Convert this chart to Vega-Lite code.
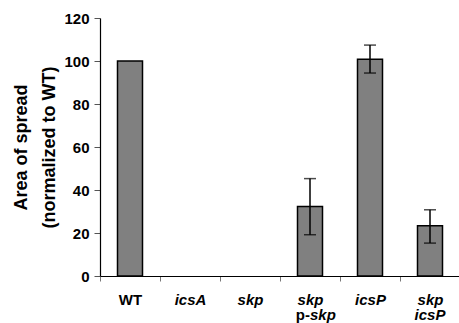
{
  "$schema": "https://vega.github.io/schema/vega-lite/v6.json",
  "width": 360,
  "height": 258,
  "autosize": {"type": "none"},
  "padding": {"left": 100, "top": 18, "right": 0, "bottom": 47},
  "background": "white",
  "config": {"view": {"stroke": null}, "font": "Liberation Sans"},
  "datasets": {
    "main": [
      {"g": "WT", "mean": 100},
      {"g": "icsA", "mean": 0},
      {"g": "skp", "mean": 0},
      {"g": "skp p-skp", "mean": 32.3, "lo": 19.2, "hi": 45.3},
      {"g": "icsP", "mean": 100.8, "lo": 94.4, "hi": 107.4},
      {"g": "skp icsP", "mean": 23.4, "lo": 15.3, "hi": 30.8}
    ],
    "sub": [
      {"g": "skp p-skp", "text": "p-", "part": "prefix"},
      {"g": "skp p-skp", "text": "skp", "part": "word"},
      {"g": "skp icsP", "text": "icsP", "part": "tail"}
    ]
  },
  "encoding": {
    "x": {
      "field": "g",
      "type": "nominal",
      "sort": null,
      "scale": {
        "domain": ["WT", "icsA", "skp", "skp p-skp", "icsP", "skp icsP"],
        "paddingInner": 0,
        "paddingOuter": 0
      },
      "axis": {
        "title": null,
        "labelAngle": 0,
        "labelExpr": "split(datum.label, ' ')[0]",
        "labelFontStyle": {"condition": {"test": "datum.value == 'WT'", "value": "normal"}, "value": "italic"},
        "labelFontWeight": "bold",
        "labelFontSize": 15,
        "labelColor": "black",
        "labelPadding": 11,
        "tickBand": "extent",
        "tickSize": 5,
        "tickColor": "#777",
        "domainColor": "black",
        "domainWidth": 1.2
      }
    }
  },
  "layer": [
    {
      "data": {"name": "main"},
      "transform": [{"filter": "datum.mean > 0"}],
      "mark": {"type": "bar", "width": 25, "fill": "#808080", "stroke": "black", "strokeWidth": 1.5},
      "encoding": {
        "y": {
          "field": "mean",
          "type": "quantitative",
          "scale": {"domain": [0, 120]},
          "axis": {
            "title": ["Area of spread", "(normalized to WT)"],
            "titleFontSize": 18,
            "titleFontWeight": "bold",
            "titleColor": "black",
            "titleLineHeight": 28,
            "titlePadding": 5,
            "values": [0, 20, 40, 60, 80, 100, 120],
            "labelFontSize": 15,
            "labelFontWeight": "bold",
            "labelColor": "black",
            "labelPadding": 5,
            "tickSize": 6,
            "tickColor": "#555",
            "domainColor": "black",
            "domainWidth": 1.2,
            "grid": false
          }
        }
      }
    },
    {
      "data": {"name": "main"},
      "mark": {"type": "rule", "color": "black", "strokeWidth": 1.5},
      "encoding": {"y": {"field": "lo", "type": "quantitative"}, "y2": {"field": "hi"}}
    },
    {
      "data": {"name": "main"},
      "mark": {"type": "tick", "color": "black", "size": 12, "thickness": 1.5},
      "encoding": {"y": {"field": "lo", "type": "quantitative"}}
    },
    {
      "data": {"name": "main"},
      "mark": {"type": "tick", "color": "black", "size": 12, "thickness": 1.5},
      "encoding": {"y": {"field": "hi", "type": "quantitative"}}
    },
    {
      "mark": {"type": "rule", "color": "#333", "strokeWidth": 2},
      "encoding": {"y": {"datum": 120}}
    },
    {
      "data": {"name": "sub"},
      "transform": [{"filter": "datum.part == 'prefix'"}],
      "mark": {"type": "text", "align": "right", "baseline": "alphabetic", "dx": 0, "fontSize": 15, "fontWeight": "bold", "color": "black"},
      "encoding": {"y": {"datum": -20.5}, "text": {"field": "text"}}
    },
    {
      "data": {"name": "sub"},
      "transform": [{"filter": "datum.part == 'word'"}],
      "mark": {"type": "text", "align": "left", "baseline": "alphabetic", "dx": 0, "fontSize": 15, "fontWeight": "bold", "fontStyle": "italic", "color": "black"},
      "encoding": {"y": {"datum": -20.5}, "text": {"field": "text"}}
    },
    {
      "data": {"name": "sub"},
      "transform": [{"filter": "datum.part == 'tail'"}],
      "mark": {"type": "text", "align": "center", "baseline": "alphabetic", "fontSize": 15, "fontWeight": "bold", "fontStyle": "italic", "color": "black"},
      "encoding": {"y": {"datum": -20.5}, "text": {"field": "text"}}
    }
  ]
}
